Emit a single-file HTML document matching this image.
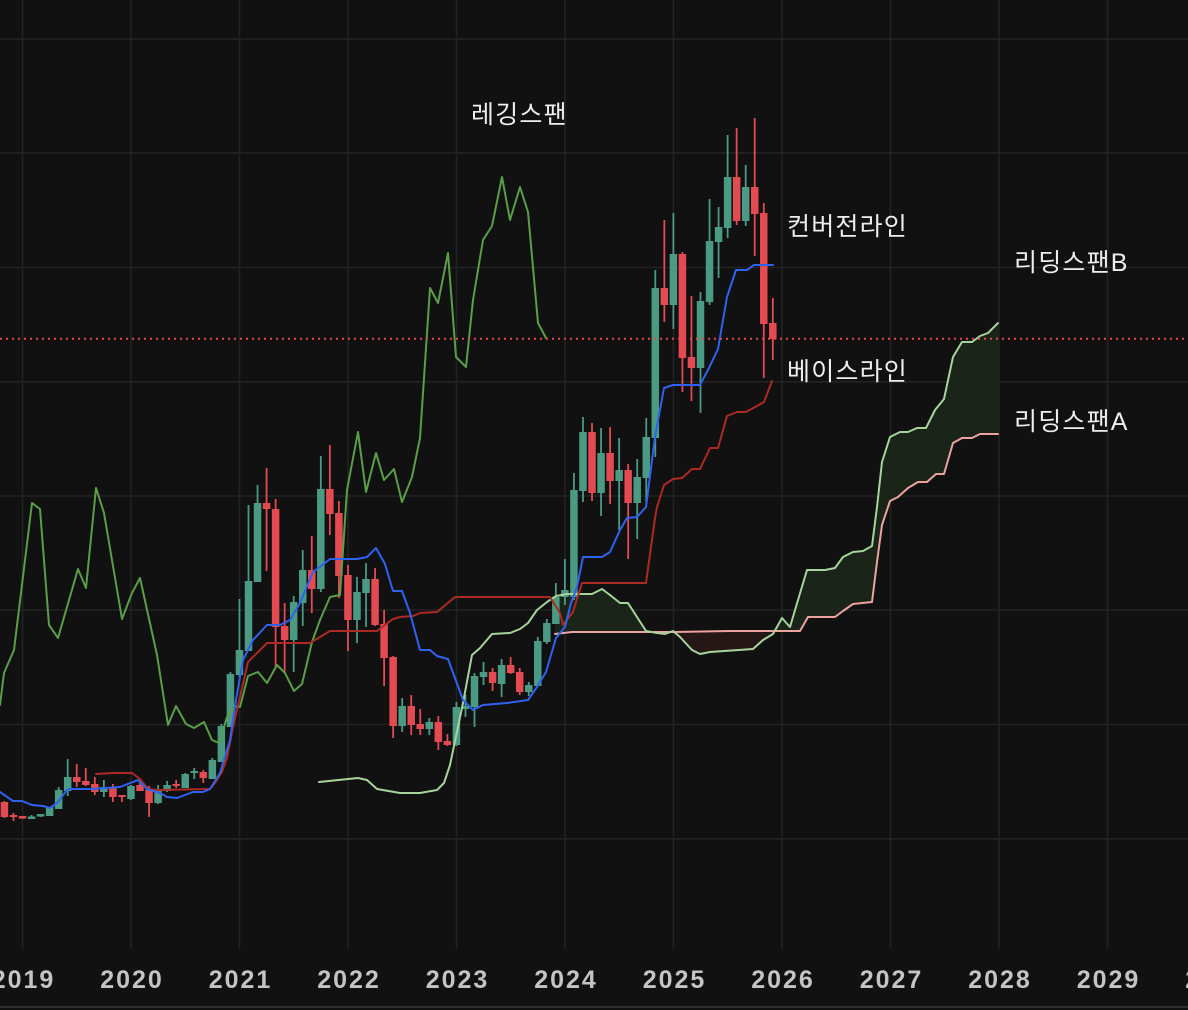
<!DOCTYPE html>
<html>
<head>
<meta charset="utf-8">
<style>
html,body{margin:0;padding:0;background:#111111;}
svg{display:block;}
</style>
</head>
<body>
<svg width="1188" height="1010" viewBox="0 0 1188 1010" xmlns="http://www.w3.org/2000/svg">
<rect x="0" y="0" width="1188" height="1010" fill="#111111"/>
<defs>
<clipPath id="aboveA"><polygon points="555,634 572,632 673,632 730,631 800,631 808,617 835,617 843,611 853,604 872,602 877,562 882,525 890,501 898,497 908,488 918,482 927,482 936,474 944,474 953,443 962,438 972,438 980,434 998,434 998,0 555,0"/></clipPath>
<clipPath id="aboveB"><polygon points="555,597 556,596 567,594 592,594 602,589 610,595 620,603 628,603 637,617 646,631 657,633 665,634 673,631 680,637 692,650 700,654 710,652 753,649 763,640 773,634 782,618 790,627 798,600 807,570 825,570 835,568 843,557 853,552 863,551 872,546 877,507 882,462 890,437 900,432 908,432 917,428 926,428 935,410 944,399 953,357 962,342 972,342 980,336 988,333 998,323 998,0 555,0"/></clipPath>
</defs>
<g stroke="#232323" stroke-width="1.6">
<line x1="0" y1="39" x2="1188" y2="39"/>
<line x1="0" y1="153" x2="1188" y2="153"/>
<line x1="0" y1="267.5" x2="1188" y2="267.5"/>
<line x1="0" y1="381.8" x2="1188" y2="381.8"/>
<line x1="0" y1="496" x2="1188" y2="496"/>
<line x1="0" y1="610" x2="1188" y2="610"/>
<line x1="0" y1="724.5" x2="1188" y2="724.5"/>
<line x1="0" y1="838.8" x2="1188" y2="838.8"/>
<line x1="22.5" y1="0" x2="22.5" y2="949"/>
<line x1="131" y1="0" x2="131" y2="949"/>
<line x1="239.5" y1="0" x2="239.5" y2="949"/>
<line x1="348" y1="0" x2="348" y2="949"/>
<line x1="456.5" y1="0" x2="456.5" y2="949"/>
<line x1="565" y1="0" x2="565" y2="949"/>
<line x1="673.5" y1="0" x2="673.5" y2="949"/>
<line x1="782" y1="0" x2="782" y2="949"/>
<line x1="890.5" y1="0" x2="890.5" y2="949"/>
<line x1="999" y1="0" x2="999" y2="949"/>
<line x1="1107.5" y1="0" x2="1107.5" y2="949"/>
</g>
<polygon clip-path="url(#aboveA)" fill="#1a2419" points="555,597 556,596 567,594 592,594 602,589 610,595 620,603 628,603 637,617 646,631 657,633 665,634 673,631 680,637 692,650 700,654 710,652 753,649 763,640 773,634 782,618 790,627 798,600 807,570 825,570 835,568 843,557 853,552 863,551 872,546 877,507 882,462 890,437 900,432 908,432 917,428 926,428 935,410 944,399 953,357 962,342 972,342 980,336 988,333 998,323 998,1010 555,1010"/>
<polygon clip-path="url(#aboveB)" fill="#261717" points="555,634 572,632 673,632 730,631 800,631 808,617 835,617 843,611 853,604 872,602 877,562 882,525 890,501 898,497 908,488 918,482 927,482 936,474 944,474 953,443 962,438 972,438 980,434 998,434 998,1010 555,1010"/>
<path fill="#4a9a84" d="M27.79 816.5h7.5v2.5h-7.5zM30.64 815h1.8v4h-1.8zM36.83 814h7.5v2.5h-7.5zM39.68 814h1.8v3h-1.8zM45.87 807h7.5v9h-7.5zM54.91 790h7.5v19h-7.5zM57.76 787h1.8v22h-1.8zM63.95 777h7.5v14h-7.5zM66.8 759h1.8v37h-1.8zM100.11 787h7.5v5h-7.5zM102.96 780h1.8v17h-1.8zM127.23 786h7.5v13h-7.5zM130.08 785h1.8v15h-1.8zM154.35 790h7.5v13h-7.5zM157.2 785h1.8v19h-1.8zM163.39 785h7.5v6h-7.5zM166.24 781h1.8v11h-1.8zM181.47 774h7.5v14h-7.5zM184.32 773h1.8v15h-1.8zM190.51 771h7.5v2h-7.5zM193.36 768h1.8v11h-1.8zM208.59 760h7.5v19h-7.5zM211.44 758h1.8v21h-1.8zM217.63 726h7.5v36h-7.5zM220.48 724h1.8v38h-1.8zM226.67 674h7.5v53h-7.5zM229.52 672h1.8v55h-1.8zM235.71 650h7.5v25h-7.5zM238.56 599h1.8v78h-1.8zM244.75 581h7.5v70h-7.5zM247.6 505h1.8v146h-1.8zM253.79 503h7.5v79h-7.5zM256.64 485h1.8v97h-1.8zM289.95 602h7.5v38h-7.5zM292.8 596h1.8v76h-1.8zM298.99 570h7.5v33h-7.5zM301.84 550h1.8v76h-1.8zM317.07 489h7.5v100h-7.5zM319.92 456h1.8v136h-1.8zM353.23 592h7.5v28h-7.5zM356.08 577h1.8v66h-1.8zM362.27 579h7.5v14h-7.5zM365.12 563h1.8v64h-1.8zM398.43 706h7.5v20h-7.5zM401.28 698h1.8v34h-1.8zM425.55 722h7.5v7h-7.5zM428.4 718h1.8v17h-1.8zM452.67 707h7.5v38h-7.5zM455.52 702h1.8v44h-1.8zM461.71 706h7.5v3h-7.5zM464.56 695h1.8v22h-1.8zM470.75 676h7.5v31h-7.5zM473.6 673h1.8v54h-1.8zM479.79 672h7.5v5h-7.5zM482.64 662h1.8v23h-1.8zM497.87 665h7.5v19h-7.5zM500.72 659h1.8v38h-1.8zM524.99 685h7.5v7h-7.5zM527.84 682h1.8v14h-1.8zM534.03 641h7.5v45h-7.5zM536.88 637h1.8v49h-1.8zM543.07 623h7.5v19h-7.5zM545.92 619h1.8v25h-1.8zM552.11 597h7.5v27h-7.5zM554.96 583h1.8v41h-1.8zM561.15 590h7.5v7h-7.5zM564 559h1.8v46h-1.8zM570.19 490h7.5v107h-7.5zM573.04 473h1.8v127h-1.8zM579.23 432h7.5v59h-7.5zM582.08 417h1.8v85h-1.8zM597.31 453h7.5v40h-7.5zM600.16 428h1.8v88h-1.8zM615.39 470h7.5v11h-7.5zM618.24 438h1.8v92h-1.8zM633.47 477h7.5v26h-7.5zM636.32 459h1.8v80h-1.8zM642.51 437h7.5v41h-7.5zM645.36 418h1.8v84h-1.8zM651.55 288h7.5v150h-7.5zM654.4 270h1.8v187h-1.8zM669.63 254h7.5v51h-7.5zM672.48 213h1.8v116h-1.8zM696.75 301h7.5v67h-7.5zM699.6 292h1.8v121h-1.8zM705.79 241h7.5v61h-7.5zM708.64 199h1.8v106h-1.8zM714.83 227h7.5v15h-7.5zM717.68 207h1.8v71h-1.8zM723.87 177h7.5v51h-7.5zM726.72 135h1.8v103h-1.8zM741.95 187h7.5v34h-7.5zM744.8 165h1.8v61h-1.8z"/>
<path fill="#e34a52" d="M0.67 802h7.5v15h-7.5zM3.52 801h1.8v17h-1.8zM9.71 815h7.5v2h-7.5zM12.56 813h1.8v8h-1.8zM18.75 816h7.5v2.5h-7.5zM21.6 816h1.8v3h-1.8zM72.99 777h7.5v5h-7.5zM75.84 764h1.8v23h-1.8zM82.03 781h7.5v4h-7.5zM84.88 768h1.8v18h-1.8zM91.07 784h7.5v8h-7.5zM93.92 777h1.8v18h-1.8zM109.15 787h7.5v10h-7.5zM112 784h1.8v18h-1.8zM118.19 795h7.5v2h-7.5zM121.04 795h1.8v7h-1.8zM136.27 785h7.5v6h-7.5zM139.12 779h1.8v12h-1.8zM145.31 790h7.5v13h-7.5zM148.16 786h1.8v31h-1.8zM172.43 784h7.5v2h-7.5zM175.28 780h1.8v8h-1.8zM199.55 772h7.5v6h-7.5zM202.4 770h1.8v13h-1.8zM262.83 503h7.5v6h-7.5zM265.68 468h1.8v103h-1.8zM271.87 509h7.5v118h-7.5zM274.72 499h1.8v168h-1.8zM280.91 626h7.5v14h-7.5zM283.76 603h1.8v70h-1.8zM308.03 570h7.5v19h-7.5zM310.88 536h1.8v77h-1.8zM326.11 489h7.5v25h-7.5zM328.96 445h1.8v90h-1.8zM335.15 513h7.5v63h-7.5zM338 501h1.8v97h-1.8zM344.19 575h7.5v45h-7.5zM347.04 565h1.8v86h-1.8zM371.31 579h7.5v46h-7.5zM374.16 568h1.8v58h-1.8zM380.35 624h7.5v34h-7.5zM383.2 610h1.8v76h-1.8zM389.39 657h7.5v69h-7.5zM392.24 656h1.8v82h-1.8zM407.47 706h7.5v19h-7.5zM410.32 695h1.8v40h-1.8zM416.51 724h7.5v5h-7.5zM419.36 709h1.8v26h-1.8zM434.59 722h7.5v20h-7.5zM437.44 716h1.8v34h-1.8zM443.63 741h7.5v4h-7.5zM446.48 734h1.8v12h-1.8zM488.83 672h7.5v11h-7.5zM491.68 668h1.8v23h-1.8zM506.91 665h7.5v8h-7.5zM509.76 657h1.8v17h-1.8zM515.95 672h7.5v20h-7.5zM518.8 668h1.8v27h-1.8zM588.27 432h7.5v61h-7.5zM591.12 423h1.8v78h-1.8zM606.35 453h7.5v28h-7.5zM609.2 427h1.8v77h-1.8zM624.43 470h7.5v33h-7.5zM627.28 464h1.8v95h-1.8zM660.59 288h7.5v17h-7.5zM663.44 220h1.8v102h-1.8zM678.67 254h7.5v104h-7.5zM681.52 252h1.8v140h-1.8zM687.71 357h7.5v11h-7.5zM690.56 296h1.8v105h-1.8zM732.91 177h7.5v44h-7.5zM735.76 128h1.8v97h-1.8zM750.99 187h7.5v27h-7.5zM753.84 118h1.8v138h-1.8zM760.03 213h7.5v111h-7.5zM762.88 203h1.8v175h-1.8zM769.07 323h7.5v16h-7.5zM771.92 298h1.8v62h-1.8z"/>
<g fill="none" stroke-width="2" stroke-linejoin="round" stroke-linecap="round">
<polyline stroke="#eba3a0" points="555,634 572,632 673,632 730,631 800,631 808,617 835,617 843,611 853,604 872,602 877,562 882,525 890,501 898,497 908,488 918,482 927,482 936,474 944,474 953,443 962,438 972,438 980,434 998,434"/>
<polyline stroke="#a6d49b" points="319,782 358,778 367,780 377,789 400,793 420,793 437,790 444,783 450,765 463,703 472,655 480,648 492,634 510,633 520,629 528,623 537,610 547,602 556,596 567,594 592,594 602,589 610,595 620,603 628,603 637,617 646,631 657,633 665,634 673,631 680,637 692,650 700,654 710,652 753,649 763,640 773,634 782,618 790,627 798,600 807,570 825,570 835,568 843,557 853,552 863,551 872,546 877,507 882,462 890,437 900,432 908,432 917,428 926,428 935,410 944,399 953,357 962,342 972,342 980,336 988,333 998,323"/>
<polyline stroke="#5a9e48" points="0,705 4,673 14,650 32,503 40,509 49,625 58,638 78,569 86,588 96,488 104,513 122,619 132,593 140,578 157,655 168,725 176,706 186,724 194,728 204,722 212,740 219,743 227,717 235,706 240,707 248,676 258,672 267,683 277,665 285,673 294,691 302,684 312,642 320,620 330,597 340,595 347,490 358,432 366,492 376,453 384,480 394,469 402,502 412,477 420,438 430,288 438,303 448,253 456,357 466,367 473,300 483,240 492,226 502,177 510,220 520,187 528,212 538,323 546,338"/>
<polyline stroke="#ad2a24" points="96,774 113,773 132,773 140,779 148,789 158,790 210,789 215,783 222,772 227,758 233,727 240,697 248,662 267,643 310,643 330,631 377,631 393,619 400,617 413,616 420,613 437,612 455,597 550,597 560,613 563,625 573,612 582,583 646,583 655,518 657,507 664,485 673,479 682,478 692,469 700,469 710,448 718,448 727,416 737,412 746,412 755,407 764,402 772,381"/>
<polyline stroke="#2f62f0" points="0,792 13,801 22,801 32,805 43,806 50,808 57,803 67,790 70,789 92,789 120,787 138,780 147,789 160,793 167,797 177,798 193,792 203,792 210,789 220,773 230,740 236,700 243,660 253,640 267,625 280,625 290,620 300,603 313,572 330,559 357,559 367,557 376,548 385,564 393,591 402,591 410,613 420,650 430,650 437,656 448,659 463,700 473,710 483,705 507,703 528,700 537,687 546,672 556,638 565,627 571,603 577,587 583,557 602,557 610,552 620,530 627,518 637,517 646,507 655,437 664,388 673,385 700,385 709,368 718,349 727,297 736,270 747,270 754,265 773,265"/>
</g>
<line x1="0" y1="338.7" x2="1188" y2="338.7" stroke="#e0474f" stroke-width="2" stroke-dasharray="2 4"/>
<g font-family="'Liberation Sans','Noto Sans CJK KR',sans-serif" font-size="25" fill="#eeeeee" letter-spacing="1.2">
<text x="471" y="123">레깅스팬</text>
<text x="787" y="235">컨버전라인</text>
<text x="1014" y="271">리딩스팬B</text>
<text x="787" y="380">베이스라인</text>
<text x="1014" y="430">리딩스팬A</text>
</g>
<g font-family="'Liberation Sans',sans-serif" font-size="25" font-weight="bold" fill="#c4c4c4" text-anchor="middle" letter-spacing="2">
<text x="23.5" y="988">2019</text>
<text x="132" y="988">2020</text>
<text x="240.5" y="988">2021</text>
<text x="349" y="988">2022</text>
<text x="457.5" y="988">2023</text>
<text x="566" y="988">2024</text>
<text x="674.5" y="988">2025</text>
<text x="783" y="988">2026</text>
<text x="891.5" y="988">2027</text>
<text x="1000" y="988">2028</text>
<text x="1108.5" y="988">2029</text>
<text x="1217" y="988">2030</text>
</g>
<rect x="0" y="1006" width="1188" height="2" fill="#2e2e2e"/>
</svg>
</body>
</html>
